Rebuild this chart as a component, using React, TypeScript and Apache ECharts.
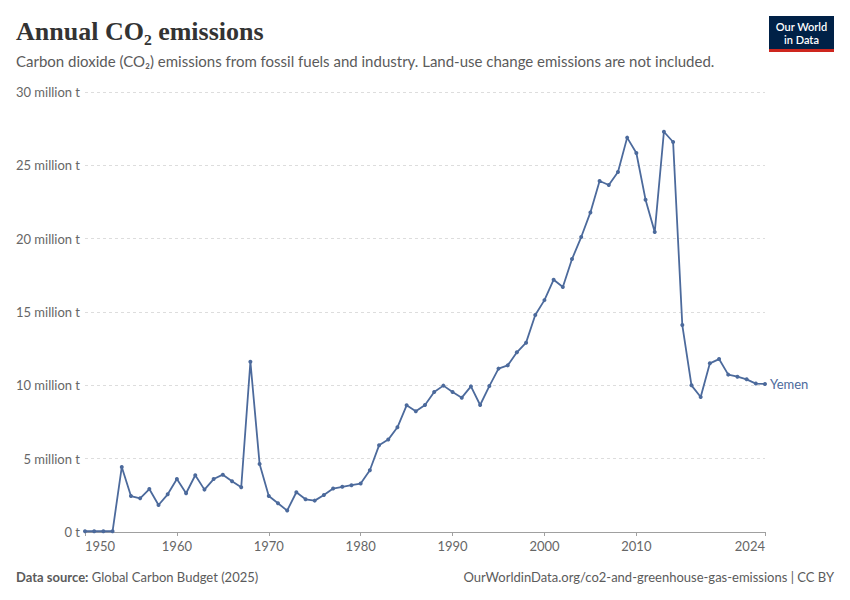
import React, { useEffect, useRef } from "react";
import * as echarts from "echarts";

// Years 1950..2024
const years: number[] = [];
for (let y = 1950; y <= 2024; y++) years.push(y);

// Annual CO2 emissions, Yemen (million tonnes)
const emissions: number[] = [
  0.05, 0.05, 0.05, 0.05,
  4.43, 2.45, 2.3, 2.93, 1.84, 2.57,
  3.61, 2.64, 3.87, 2.89, 3.61, 3.91, 3.46, 3.05, 11.61, 4.64,
  2.45, 1.96, 1.46, 2.71, 2.23, 2.14, 2.52, 2.96, 3.08, 3.19,
  3.3, 4.21, 5.91, 6.3, 7.14, 8.64, 8.23, 8.66, 9.54, 9.98,
  9.54, 9.16, 9.93, 8.66, 9.95, 11.14, 11.36, 12.25, 12.91, 14.79,
  15.81, 17.2, 16.7, 18.61, 20.11, 21.79, 23.93, 23.66, 24.54, 26.89,
  25.84, 22.66, 20.45, 27.29, 26.59, 14.11, 10.0, 9.2, 11.5, 11.79,
  10.73, 10.59, 10.41, 10.12, 10.09,
];

const xTickLabels: number[] = [1950, 1960, 1970, 1980, 1990, 2000, 2010, 2024];
const seriesName = "Yemen";

const title = "Annual CO\u2082 emissions";
const subtitle =
  "Carbon dioxide (CO\u2082) emissions from fossil fuels and industry. Land-use change emissions are not included.";
const sourceLabel = "Data source:";
const sourceText = " Global Carbon Budget (2025)";
const urlText = "OurWorldinData.org/co2-and-greenhouse-gas-emissions | CC BY";
const logoLines = ["Our World", "in Data"];

const BLUE = "#4C6A9C";
const FONT = "Lato, 'Noto Sans', sans-serif";

export default function App() {
  const ref = useRef<HTMLDivElement>(null);

  useEffect(() => {
    if (!ref.current) return;
    const chart = echarts.init(ref.current, undefined, { renderer: "svg" });
    const data = years.map((y, i) => [y, emissions[i]]);
    chart.setOption({
      animation: false,
      backgroundColor: "#ffffff",
      textStyle: { fontFamily: FONT },
      grid: { left: 85, right: 85, top: 92, bottom: 68, containLabel: false },
      xAxis: {
        type: "value",
        min: 1950,
        max: 2024,
        interval: 10,
        axisLine: { show: true, lineStyle: { color: "#a0a0a0", width: 1 } },
        axisTick: {
          show: true,
          length: 4,
          customValues: xTickLabels,
          lineStyle: { color: "#a0a0a0" },
        },
        axisLabel: {
          customValues: xTickLabels,
          color: "#666666",
          fontSize: 13,
          fontFamily: FONT,
          margin: 7,
          alignMinLabel: "left",
          alignMaxLabel: "right",
          formatter: (v: number) => String(v),
        },
        splitLine: { show: false },
      },
      yAxis: {
        type: "value",
        min: 0,
        max: 30,
        interval: 5,
        axisLine: { show: false },
        axisTick: { show: false },
        axisLabel: {
          color: "#666666",
          fontSize: 13,
          fontFamily: FONT,
          margin: 5,
          formatter: (v: number) => (v === 0 ? "0 t" : `${v} million t`),
        },
        splitLine: {
          show: true,
          lineStyle: { color: "#dddddd", type: [3, 3], width: 1 },
        },
      },
      series: [
        {
          name: seriesName,
          type: "line",
          data,
          symbol: "circle",
          symbolSize: 4,
          showSymbol: true,
          lineStyle: { color: BLUE, width: 1.8 },
          itemStyle: { color: BLUE },
          endLabel: {
            show: true,
            formatter: seriesName,
            color: BLUE,
            fontSize: 13,
            fontFamily: FONT,
            distance: 5,
          },
        },
      ],
      graphic: [
        {
          type: "text",
          x: 16,
          y: 31,
          style: {
            text: title,
            fill: "#333333",
            font: "bold 26px 'Liberation Serif', 'DejaVu Serif', serif",
            verticalAlign: "middle",
          },
        },
        {
          type: "text",
          x: 16,
          y: 61,
          style: {
            text: subtitle,
            fill: "#5b5b5b",
            font: `15px ${FONT}`,
            verticalAlign: "middle",
          },
        },
        {
          type: "rect",
          shape: { x: 769, y: 16, width: 65, height: 36 },
          style: { fill: "#002147" },
        },
        {
          type: "rect",
          shape: { x: 769, y: 49, width: 65, height: 3 },
          style: { fill: "#ce261e" },
        },
        {
          type: "text",
          x: 801.5,
          y: 26.5,
          style: {
            text: logoLines[0],
            fill: "#ffffff",
            font: `600 11px ${FONT}`,
            align: "center",
            verticalAlign: "middle",
          },
        },
        {
          type: "text",
          x: 801.5,
          y: 39.5,
          style: {
            text: logoLines[1],
            fill: "#ffffff",
            font: `600 11px ${FONT}`,
            align: "center",
            verticalAlign: "middle",
          },
        },
        {
          type: "text",
          x: 16,
          y: 577,
          style: {
            text: `{b|${sourceLabel}}{n|${sourceText}}`,
            verticalAlign: "middle",
            rich: {
              b: { fill: "#5b5b5b", font: `bold 13px ${FONT}` },
              n: { fill: "#5b5b5b", font: `13px ${FONT}` },
            },
          },
        },
        {
          type: "text",
          x: 834,
          y: 577,
          style: {
            text: urlText,
            fill: "#5b5b5b",
            font: `13px ${FONT}`,
            align: "right",
            verticalAlign: "middle",
          },
        },
      ],
    });
    return () => chart.dispose();
  }, []);

  return (
    <div
      ref={ref}
      style={{ position: "fixed", left: 0, top: 0, width: 850, height: 600, background: "#fff" }}
    />
  );
}
